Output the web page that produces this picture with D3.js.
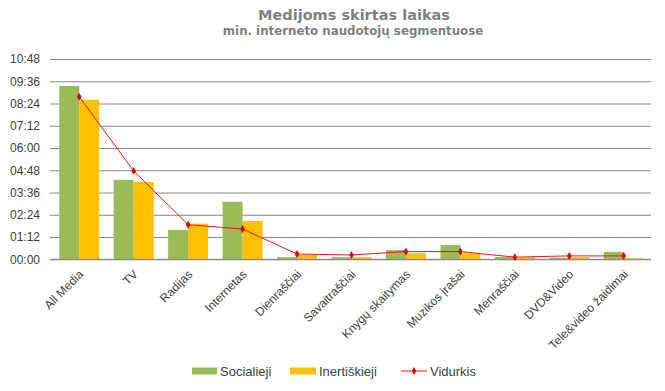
<!DOCTYPE html>
<html>
<head>
<meta charset="utf-8">
<style>
body { margin: 0; background: #fff; }
svg { font-family: "Liberation Sans", Arial, sans-serif; }
.title { font-family: "DejaVu Sans", Verdana, sans-serif; font-weight: bold; fill: #7f7f7f; }
.tick text { fill: #404040; }
</style>
<script src="https://cdn.jsdelivr.net/npm/d3@7"></script>
</head>
<body>
<svg width="665" height="391"></svg>
<script>

// categories and values (minutes)
var categories = ["All Media", "TV", "Radijas", "Internetas", "Dienraščiai", "Savaitraščiai",
  "Knygų skaitymas", "Muzikos įrašai", "Mėnraščiai", "DVD&Video", "Tele&video žaidimai"];
var socialieji   = [561, 257, 95, 186, 7, 7, 30, 46, 8, 5, 24];
var inertiskieji = [516, 250, 115, 124, 15, 7, 20, 20, 6, 7, 3];
var vidurkis     = [526, 286, 112, 98, 17, 14, 25, 25, 7, 11, 11];
var yTicks = [0, 72, 144, 216, 288, 360, 432, 504, 576, 648];

var svg = d3.select("svg"),
    plotL = 52, plotR = 651, plotT = 59, plotB = 259.3;

var x = d3.scaleBand()
    .domain(categories)
    .range([plotL, plotR]);

var y = d3.scaleLinear()
    .domain([0, 648])
    .range([plotB, plotT]);

function fmt(m) {
  var h = Math.floor(m / 60), mm = m % 60;
  return (h < 10 ? "0" : "") + h + ":" + (mm < 10 ? "0" : "") + mm;
}

// title
svg.append("text").attr("class", "title")
    .attr("x", 354).attr("y", 19.5).attr("text-anchor", "middle")
    .style("font-size", "14.5px")
    .text("Medijoms skirtas laikas");
svg.append("text").attr("class", "title")
    .attr("x", 353).attr("y", 34.5).attr("text-anchor", "middle")
    .style("font-size", "11.8px")
    .text("min. interneto naudotojų segmentuose");

// grid + y labels
var yAxis = svg.append("g")
    .attr("transform", "translate(" + (plotL - 2) + ",0)")
    .call(d3.axisLeft(y).tickValues(yTicks).tickFormat(fmt)
      .tickSize(-(plotR - plotL + 2)).tickPadding(10));
yAxis.select(".domain").remove();
yAxis.selectAll(".tick line").attr("stroke", "#878787");
yAxis.selectAll(".tick text").style("font-size", "12px");

// bars
var bw = 20;
svg.append("g").selectAll("rect")
  .data(socialieji)
  .enter().append("rect")
    .attr("x", function(d, i) { return x(categories[i]) + x.bandwidth() / 2 - bw; })
    .attr("y", function(d) { return y(d); })
    .attr("width", bw)
    .attr("height", function(d) { return plotB - y(d); })
    .attr("fill", "#9bbb59");

svg.append("g").selectAll("rect")
  .data(inertiskieji)
  .enter().append("rect")
    .attr("x", function(d, i) { return x(categories[i]) + x.bandwidth() / 2; })
    .attr("y", function(d) { return y(d); })
    .attr("width", bw)
    .attr("height", function(d) { return plotB - y(d); })
    .attr("fill", "#ffc000");

// baseline
svg.append("line")
    .attr("x1", plotL - 2).attr("x2", plotR)
    .attr("y1", plotB).attr("y2", plotB)
    .attr("stroke", "#878787");

// average line
var line = d3.line()
    .x(function(d, i) { return x(categories[i]) + x.bandwidth() / 2; })
    .y(function(d) { return y(d); });

svg.append("path")
    .datum(vidurkis)
    .attr("d", line)
    .attr("fill", "none")
    .attr("stroke", "#f01818")
    .attr("stroke-width", 1);

var diamond = d3.symbol().type(d3.symbolDiamond).size(18);
svg.append("g").selectAll("path")
  .data(vidurkis)
  .enter().append("path")
    .attr("d", diamond)
    .attr("transform", function(d, i) {
      return "translate(" + (x(categories[i]) + x.bandwidth() / 2) + "," + y(d) + ")";
    })
    .attr("fill", "#d00000");

// x labels
svg.append("g").selectAll("text")
  .data(categories)
  .enter().append("text")
    .attr("transform", function(d) {
      return "translate(" + (x(d) + x.bandwidth() / 2 + 5) + "," + 275 + ") rotate(-45)";
    })
    .attr("text-anchor", "end")
    .style("font-size", "12px")
    .attr("fill", "#404040")
    .text(function(d) { return d; });

// legend
var legend = svg.append("g").style("font-size", "13px").attr("fill", "#404040");
legend.append("rect").attr("x", 192).attr("y", 367.5).attr("width", 25).attr("height", 7).attr("fill", "#9bbb59");
legend.append("text").attr("x", 220).attr("y", 375.5).text("Socialieji");
legend.append("rect").attr("x", 290).attr("y", 367.5).attr("width", 26).attr("height", 7).attr("fill", "#ffc000");
legend.append("text").attr("x", 319).attr("y", 375.5).text("Inertiškieji");
legend.append("line").attr("x1", 401).attr("x2", 427).attr("y1", 371).attr("y2", 371)
    .attr("stroke", "#f01818");
legend.append("path").attr("d", diamond).attr("transform", "translate(414,371)").attr("fill", "#d00000");
legend.append("text").attr("x", 430).attr("y", 375.5).text("Vidurkis");

</script>
</body>
</html>
